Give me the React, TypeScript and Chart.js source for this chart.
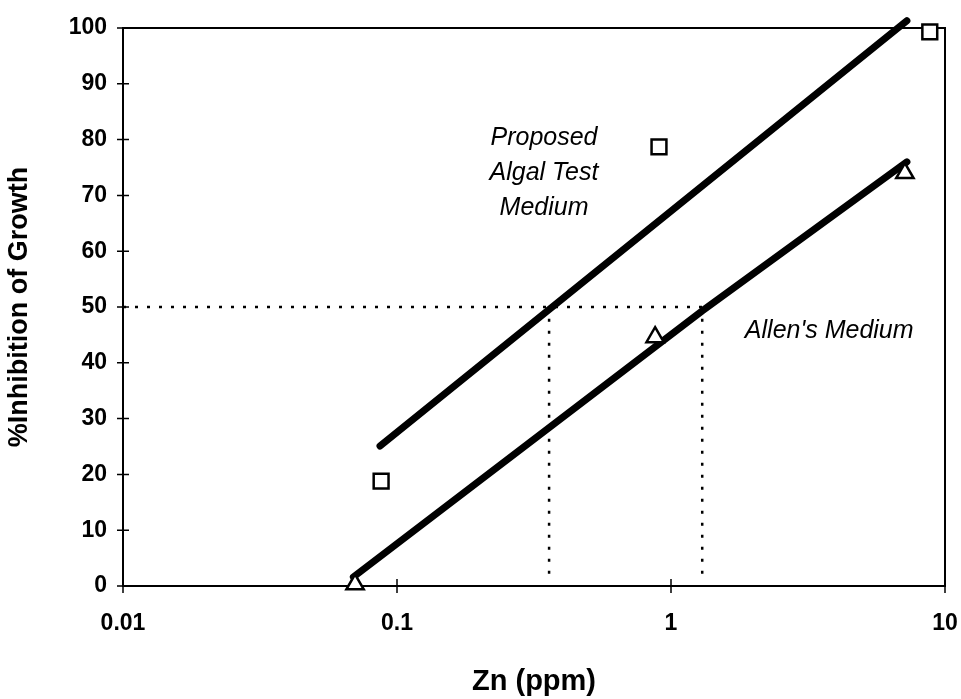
import React, { useEffect, useRef } from 'react';
import { Chart, registerables } from 'chart.js';

Chart.register(...registerables);

// Observed points
const proposedObsX = [0.0875, 0.904, 8.8];
const proposedObsY = [18.8, 78.7, 99.3];
const allenObsX = [0.0703, 0.875, 7.14];
const allenObsY = [0.3, 44.6, 74.0];

// Fitted regression lines
const proposedFitX = [0.0867, 7.26];
const proposedFitY = [25.1, 101.3];
const allenFitX = [0.0693, 1.3, 7.26];
const allenFitY = [1.6, 49.3, 76.0];

// EC50 guide lines
const ec50X = [0.359, 1.3];
const ec50Level = 50;
const ec50Floor = 2.2;

// Axis ticks
const xTicks = [0.01, 0.1, 1, 10];
const yTicks = [0, 10, 20, 30, 40, 50, 60, 70, 80, 90, 100];

// Annotations
const proposedLabel = ['Proposed', 'Algal Test', 'Medium'];
const proposedLabelAt = { x: 0.344, y: 79.0 };
const allenLabel = "Allen's Medium";
const allenLabelAt = { x: 3.78, y: 44.4 };

const FONT = '"Liberation Sans", Arial, Helvetica, sans-serif';

const pts = (xs: number[], ys: number[]) => xs.map((x, i) => ({ x, y: ys[i] }));

const framePlugin = {
  id: 'frame',
  beforeDatasetsDraw(chart: any) {
    const { ctx, chartArea: a, scales } = chart;
    ctx.save();
    ctx.strokeStyle = '#000';
    ctx.lineWidth = 2;
    ctx.strokeRect(a.left, a.top, a.right - a.left, a.bottom - a.top);
    ctx.lineWidth = 1.5;
    ctx.beginPath();
    for (const v of yTicks) {
      const y = scales.y.getPixelForValue(v);
      ctx.moveTo(a.left - 6, y);
      ctx.lineTo(a.left + 6, y);
    }
    for (const v of xTicks) {
      const x = scales.x.getPixelForValue(v);
      ctx.moveTo(x, a.bottom - 7);
      ctx.lineTo(x, a.bottom + 7);
    }
    ctx.stroke();
    ctx.restore();
  },
  afterDraw(chart: any) {
    const { ctx, scales } = chart;
    ctx.save();
    ctx.fillStyle = '#000';
    ctx.font = `italic 25px ${FONT}`;
    ctx.textAlign = 'center';
    ctx.textBaseline = 'alphabetic';
    const px = scales.x.getPixelForValue(proposedLabelAt.x);
    const py = scales.y.getPixelForValue(proposedLabelAt.y);
    proposedLabel.forEach((t, i) => ctx.fillText(t, px, py + i * 35));
    ctx.fillText(allenLabel, scales.x.getPixelForValue(allenLabelAt.x), scales.y.getPixelForValue(allenLabelAt.y));
    ctx.restore();
  },
};

export default function App() {
  const ref = useRef<HTMLCanvasElement | null>(null);
  useEffect(() => {
    document.body.style.margin = '0';
    if (!ref.current) return;
    const marker = {
      type: 'line' as const,
      showLine: false,
      pointRadius: 10,
      pointBorderWidth: 2.5,
      pointBorderColor: '#000',
      pointBackgroundColor: '#fff',
      clip: false as any,
    };
    const fit = {
      type: 'line' as const,
      borderColor: '#000',
      borderWidth: 7,
      borderCapStyle: 'round' as const,
      pointRadius: 0,
      tension: 0,
    };
    const dotted = {
      type: 'line' as const,
      borderColor: '#000',
      borderWidth: 2.5,
      borderDash: [3, 9],
      pointRadius: 0,
    };
    const chart = new Chart(ref.current, {
      type: 'line',
      data: {
        datasets: [
          { ...marker, label: 'Proposed observed', data: pts(proposedObsX, proposedObsY), pointStyle: 'rect', pointRadius: 10.5 },
          { ...marker, label: 'Allen observed', data: pts(allenObsX, allenObsY), pointStyle: 'triangle' },
          { ...fit, label: 'Proposed fit', data: pts(proposedFitX, proposedFitY), clip: { left: 0, top: 12, right: 0, bottom: 0 } as any },
          { ...fit, label: 'Allen fit', data: pts(allenFitX, allenFitY) },
          { ...dotted, label: 'EC50 h', data: [{ x: 0.01, y: ec50Level }, { x: ec50X[1], y: ec50Level }] },
          { ...dotted, label: 'EC50 v1', data: [{ x: ec50X[0], y: ec50Floor }, { x: ec50X[0], y: ec50Level }] },
          { ...dotted, label: 'EC50 v2', data: [{ x: ec50X[1], y: ec50Floor }, { x: ec50X[1], y: ec50Level }] },
        ] as any,
      },
      options: {
        animation: false,
        responsive: true,
        maintainAspectRatio: false,
        layout: { padding: { top: 28, right: 16, left: 0, bottom: 0 } },
        plugins: { legend: { display: false }, tooltip: { enabled: false } },
        scales: {
          x: {
            type: 'logarithmic',
            min: 0.01,
            max: 10,
            afterBuildTicks: (s: any) => {
              s.ticks = xTicks.map((v) => ({ value: v }));
            },
            afterFit: (s: any) => {
              s.height = 113;
              s.paddingLeft = 0;
              s.paddingRight = 0;
            },
            grid: { display: false, drawTicks: false },
            border: { display: false },
            ticks: {
              color: '#000',
              padding: 24,
              maxRotation: 0,
              font: { family: FONT, size: 23, weight: 'bold' },
              callback: (v: any) => String(v),
            },
            title: {
              display: true,
              text: 'Zn (ppm)',
              color: '#000',
              font: { family: FONT, size: 29, weight: 'bold' },
              padding: { top: 0, bottom: 0 },
            },
          },
          y: {
            type: 'linear',
            min: 0,
            max: 100,
            afterFit: (s: any) => {
              s.width = 123;
              s.paddingTop = 0;
              s.paddingBottom = 0;
            },
            grid: { display: false, drawTicks: false },
            border: { display: false },
            ticks: {
              stepSize: 10,
              color: '#000',
              padding: 16,
              font: { family: FONT, size: 23, weight: 'bold' },
            },
            title: {
              display: true,
              text: '%Inhibition of Growth',
              color: '#000',
              font: { family: FONT, size: 27, weight: 'bold' },
              padding: { top: 3, bottom: 0 },
            },
          },
        },
      },
      plugins: [framePlugin],
    });
    return () => chart.destroy();
  }, []);
  return (
    <div style={{ position: 'fixed', left: 0, top: 0, width: 961, height: 699, background: '#fff' }}>
      <canvas ref={ref} />
    </div>
  );
}
